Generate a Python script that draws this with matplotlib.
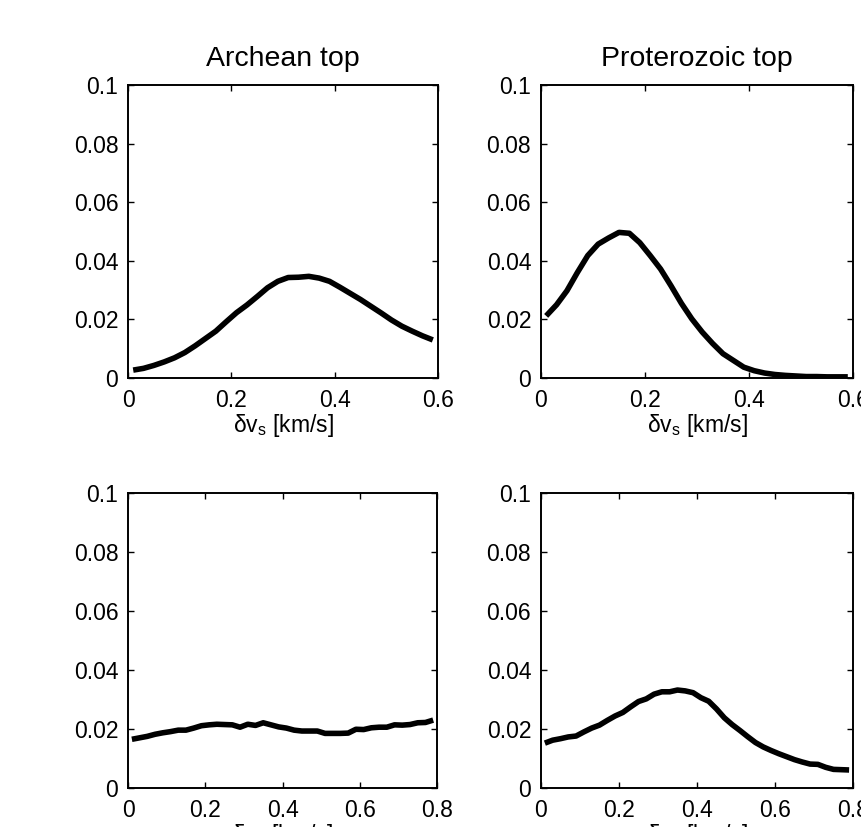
import matplotlib
matplotlib.use('Agg')
import matplotlib.pyplot as plt
import numpy as np

plt.rcParams['font.family'] = ['Liberation Sans', 'DejaVu Sans']
plt.rcParams['mathtext.default'] = 'regular'

# velocity grids [km/s]
x_top = np.arange(0.01, 0.60, 0.02)
x_bot = np.arange(0.01, 0.80, 0.02)

archean_top = [0.0027, 0.0033, 0.0043, 0.0055, 0.0069, 0.0087, 0.0110, 0.0135, 0.0160, 0.0192,
               0.0223, 0.0249, 0.0278, 0.0308, 0.0330, 0.0343, 0.0344, 0.0347, 0.0341, 0.0330,
               0.0310, 0.0289, 0.0268, 0.0245, 0.0222, 0.0198, 0.0177, 0.0160, 0.0144, 0.0130]

proterozoic_top = [0.0212, 0.0250, 0.0298, 0.0360, 0.0418, 0.0457, 0.0478, 0.0497, 0.0494, 0.0462,
                   0.0418, 0.0372, 0.0315, 0.0255, 0.0202, 0.0157, 0.0118, 0.0083, 0.0060, 0.0037,
                   0.0025, 0.0017, 0.0012, 0.0009, 0.0007, 0.0005, 0.0005, 0.0004, 0.0004, 0.0004]

archean_bot = [0.0165, 0.0170, 0.0175, 0.0182, 0.0187, 0.0191, 0.0196, 0.0196, 0.0203, 0.0211,
               0.0214, 0.0216, 0.0215, 0.0214, 0.0206, 0.0216, 0.0212, 0.0221, 0.0214, 0.0207,
               0.0203, 0.0196, 0.0193, 0.0193, 0.0193, 0.0185, 0.0185, 0.0185, 0.0186, 0.0199,
               0.0198, 0.0204, 0.0206, 0.0206, 0.0214, 0.0213, 0.0215, 0.0221, 0.0222, 0.0230]

proterozoic_bot = [0.0152, 0.0162, 0.0167, 0.0173, 0.0176, 0.0190, 0.0203, 0.0213, 0.0229, 0.0244,
                   0.0256, 0.0275, 0.0293, 0.0302, 0.0318, 0.0326, 0.0326, 0.0332, 0.0329, 0.0323,
                   0.0306, 0.0294, 0.0268, 0.0238, 0.0215, 0.0195, 0.0174, 0.0154, 0.0139, 0.0127,
                   0.0116, 0.0106, 0.0096, 0.0088, 0.0081, 0.0080, 0.0070, 0.0063, 0.0062, 0.0061]

titles = ['Archean top', 'Proterozoic top', '', '']
yticks = [0, 0.02, 0.04, 0.06, 0.08, 0.1]
ytick_labels = ['0', '0.02', '0.04', '0.06', '0.08', '0.1']
xlabel = 'δv$_{s}$ [km/s]'

fig = plt.figure(figsize=(8.61, 8.27), dpi=100)

rects = [[0.1487, 0.5429, 0.3600, 0.3543],
         [0.6283, 0.5429, 0.3624, 0.3543],
         [0.1487, 0.0472, 0.3589, 0.3567],
         [0.6283, 0.0472, 0.3624, 0.3567]]
xs = [x_top, x_top, x_bot, x_bot]
ys = [archean_top, proterozoic_top, archean_bot, proterozoic_bot]
xlims = [0.6, 0.6, 0.8, 0.8]

for i in range(4):
    ax = fig.add_axes(rects[i])
    ax.plot(xs[i], ys[i], color='black', lw=4, solid_capstyle='butt')
    ax.set_xlim(0, xlims[i])
    ax.set_ylim(0, 0.1)
    ax.set_xticks(np.arange(0, xlims[i] + 0.01, 0.2))
    ax.set_xticklabels(['0'] + ['%.1f' % v for v in np.arange(0.2, xlims[i] + 0.01, 0.2)])
    ax.set_yticks(yticks)
    ax.set_yticklabels(ytick_labels)
    ax.tick_params(direction='in', top=True, right=True, length=4, width=1,
                   labelsize=16.5)
    ax.tick_params(axis='x', pad=8)
    ax.tick_params(axis='y', pad=7)
    for s in ax.spines.values():
        s.set_linewidth(1.4)
    ax.set_xlabel(xlabel, fontsize=16.5, labelpad=0)
    if titles[i]:
        ax.set_title(titles[i], fontsize=20.5, pad=14)

fig.savefig('out.png', dpi=100)
